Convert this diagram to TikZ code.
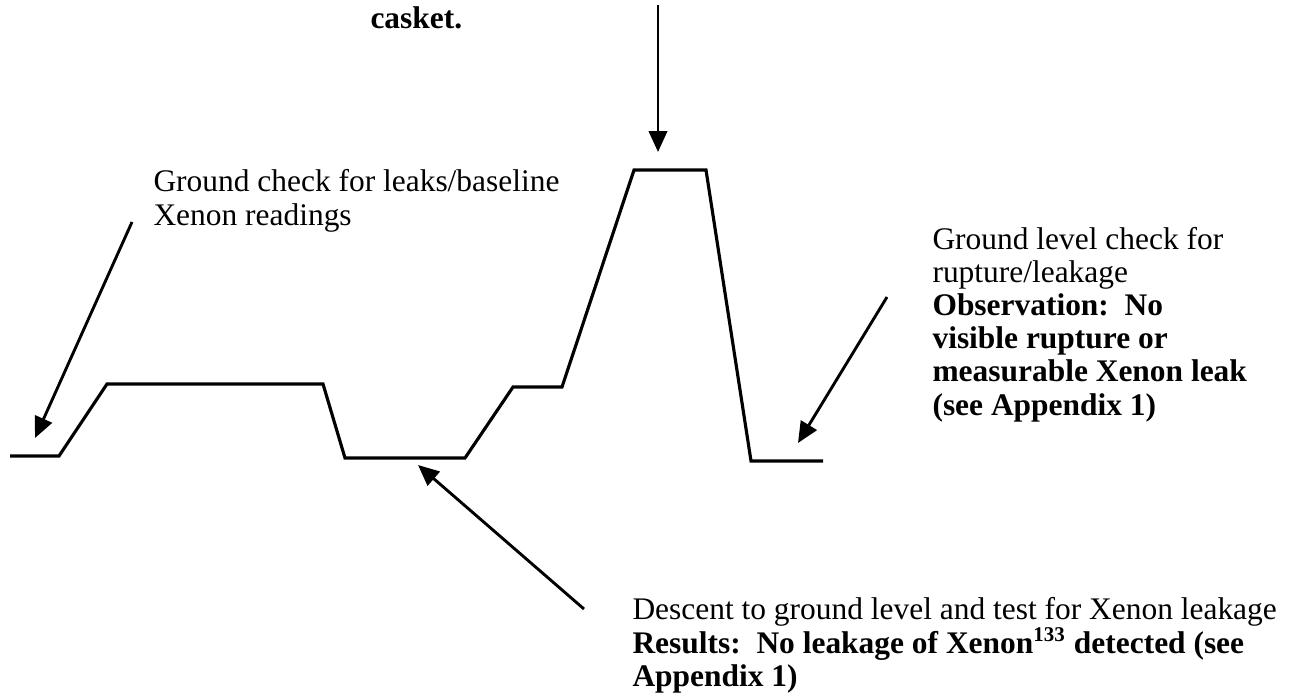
\documentclass[tikz,border=0pt]{standalone}
\usepackage{fontspec}
\setmainfont{Liberation Serif}
\usetikzlibrary{arrows.meta}
\tikzset{
  profile/.style = {line width=1.2pt, line join=miter},
  pointer/.style = {line width=1.1pt, -{Triangle[length=8pt, width=7pt]}},
  note/.style = {anchor=base west, inner sep=0pt, align=left, font=\fontsize{12pt}{12.6pt}\selectfont},
}
\begin{document}
\begin{tikzpicture}[x=0.3817pt, y=-0.3817pt]
  \useasboundingbox (0,0) rectangle (1295,698);

  % flight profile
  \draw[profile] (10,456) -- (59,456) -- (107,384) -- (323,384) -- (345,458) -- (465,458)
    -- (513,387) -- (562,387) -- (634,170) -- (706,170) -- (751,461) -- (823,461);

  % base anchor sits on the last line
  \node[note] (casket) at (370,28) {\textbf{casket.}};
  \node[note] (baseline) at (153,225) {Ground check for leaks/baseline\\Xenon readings};
  \node[note] (rupture) at (932,415) {Ground level check for\\rupture/leakage\\
    \textbf{Observation:\ \ No}\\\textbf{visible rupture or}\\
    \textbf{measurable Xenon leak}\\\textbf{(see Appendix 1)}};
  \node[note] (descent) at (632,686) {Descent to ground level and test for Xenon leakage\\
    \textbf{Results:\ \ No leakage of Xenon\textsuperscript{133} detected (see}\\
    \textbf{Appendix 1)}};

  \coordinate (top0) at (658,5);
  \coordinate (top1) at (658,152);
  \coordinate (left0) at (132,222);
  \coordinate (left1) at (35,438);
  \coordinate (right0) at (887,297);
  \coordinate (right1) at (798,443);
  \coordinate (low0) at (584,609);
  \coordinate (low1) at (418,465);

  \draw[pointer] (top0) -- (top1);
  \draw[pointer] (left0) -- (left1);
  \draw[pointer] (right0) -- (right1);
  \draw[pointer] (low0) -- (low1);
\end{tikzpicture}
\end{document}
